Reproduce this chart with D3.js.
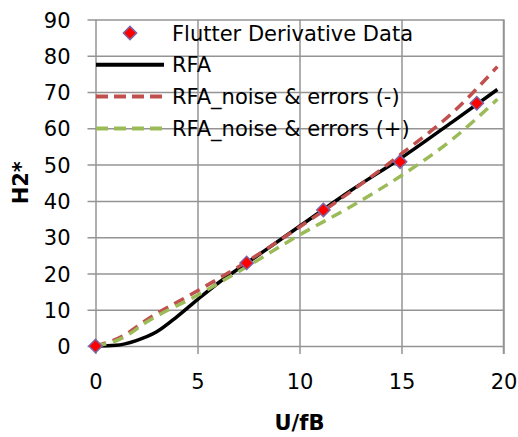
<!DOCTYPE html>
<html>
<head>
<meta charset="utf-8">
<script src="https://cdn.jsdelivr.net/npm/d3@7"></script>
<style>
  html, body { margin: 0; padding: 0; background: #fff; overflow: hidden; }
  svg { display: block; }
  svg text { font-family: "DejaVu Sans", sans-serif; fill: #000; }
</style>
</head>
<body>
<svg></svg>
<script>
// Svg element dimensions
const width = 518;
const height = 437;

// Flutter derivative data points
const dataU = [0, 7.41, 11.17, 14.93, 18.69];
const dataH2 = [0, 22.9, 37.5, 50.8, 66.9];

// RFA curve
const rfaU = [0, 1, 2, 3, 4, 5, 6, 7.4, 10, 12.5, 15, 17.5, 19.7];
const rfaH2 = [0, 0.2, 1.5, 3.9, 8.1, 12.8, 17.3, 22.8, 33, 42.8, 51.9, 61.8, 70.7];

// RFA with noise & errors
const curveU = [0, 1.36, 2.5, 5, 7.4, 10, 12.5, 15, 17.5, 19.7];
const minusH2 = [0, 2.8, 7.2, 15.2, 23.2, 32.8, 42.5, 53, 64.3, 77];
const plusH2 = [0, 2.3, 6.6, 14, 21.8, 30.6, 38.4, 47, 57, 68];

const xTicks = [0, 5, 10, 15, 20];
const yTicks = [0, 10, 20, 30, 40, 50, 60, 70, 80, 90];

const seriesNames = ["Flutter Derivative Data", "RFA", "RFA_noise & errors (-)", "RFA_noise & errors (+)"];

const svg = d3.select("svg").attr("width", width).attr("height", height);

const margin = { top: 19.5, right: 14.5, bottom: 91, left: 95.5 };
const innerWidth = width - margin.left - margin.right;
const innerHeight = height - margin.top - margin.bottom;

const xScale = d3.scaleLinear().domain([0, 20]).range([0, innerWidth]);
const yScale = d3.scaleLinear().domain([0, 90]).range([innerHeight, 0]);

const g = svg.append("g").attr("transform", `translate(${margin.left}, ${margin.top})`);

const gridColor = "#949494";
const fontSize = "21px";

// Axes with gridlines (tick lines run through the plot and stick out a bit)
const xAxisG = g.append("g")
  .attr("transform", `translate(0, ${innerHeight})`)
  .call(d3.axisBottom(xScale).tickValues(xTicks).tickSize(-innerHeight).tickPadding(0));
xAxisG.select(".domain").remove();
xAxisG.selectAll(".tick line").attr("y1", 8).attr("y2", -innerHeight)
  .attr("stroke", gridColor).attr("stroke-width", 1.5);
xAxisG.selectAll(".tick text")
  .attr("y", 43).attr("dy", 0)
  .style("font-size", fontSize);

const yAxisG = g.append("g")
  .call(d3.axisLeft(yScale).tickValues(yTicks).tickSize(-innerWidth).tickPadding(0));
yAxisG.select(".domain").remove();
yAxisG.selectAll(".tick line").attr("x1", -8).attr("x2", innerWidth)
  .attr("stroke", gridColor).attr("stroke-width", 1.5);
yAxisG.selectAll(".tick text")
  .attr("x", -25).attr("dy", "0.36em")
  .style("font-size", fontSize);

// Right border
g.append("line")
  .attr("x1", innerWidth).attr("x2", innerWidth)
  .attr("y1", 0).attr("y2", innerHeight + 8)
  .attr("stroke", gridColor).attr("stroke-width", 1.5);

// Lines
const line = d3.line()
  .x((d) => xScale(d[0]))
  .y((d) => yScale(d[1]))
  .curve(d3.curveMonotoneX);

const series = [
  { values: d3.zip(rfaU, rfaH2), color: "#000000", dash: null },
  { values: d3.zip(curveU, minusH2), color: "#C0504D", dash: "11,7" },
  { values: d3.zip(curveU, plusH2), color: "#9BBB59", dash: "11,7" }
];

g.selectAll(".series")
  .data(series)
  .enter()
  .append("path")
  .attr("class", "series")
  .attr("d", (d) => line(d.values))
  .attr("fill", "none")
  .attr("stroke", (d) => d.color)
  .attr("stroke-width", 3.5)
  .attr("stroke-dasharray", (d) => d.dash);

// Diamonds
const diamond = d3.symbol().type(d3.symbolSquare).size(88);

g.selectAll(".pt")
  .data(d3.zip(dataU, dataH2))
  .enter()
  .append("path")
  .attr("class", "pt")
  .attr("d", diamond)
  .attr("transform", (d) => `translate(${xScale(d[0])}, ${yScale(d[1])}) rotate(45)`)
  .attr("fill", "#FF0000")
  .attr("stroke", "#8064A2")
  .attr("stroke-width", 1.5);

// Legend
const legend = svg.append("g").attr("transform", "translate(96, 33)");
const rowGap = 31.8;

legend.append("path")
  .attr("d", diamond)
  .attr("transform", "translate(34, 0) rotate(45)")
  .attr("fill", "#FF0000")
  .attr("stroke", "#8064A2")
  .attr("stroke-width", 1.5);

series.forEach((s, i) => {
  legend.append("line")
    .attr("x1", 0).attr("x2", 68)
    .attr("y1", rowGap * (i + 1)).attr("y2", rowGap * (i + 1))
    .attr("stroke", s.color)
    .attr("stroke-width", 4)
    .attr("stroke-dasharray", s.dash ? "12,6" : null);
});

legend.selectAll("text")
  .data(seriesNames)
  .enter()
  .append("text")
  .attr("x", 76)
  .attr("y", (d, i) => rowGap * i)
  .attr("dy", "0.36em")
  .style("font-size", fontSize)
  .text((d) => d);

// Axis titles
svg.append("text")
  .attr("x", margin.left + innerWidth / 2)
  .attr("y", 430)
  .attr("text-anchor", "middle")
  .style("font-size", fontSize)
  .style("font-weight", "bold")
  .text("U/fB");

svg.append("text")
  .attr("transform", `translate(28, ${margin.top + innerHeight / 2}) rotate(-90)`)
  .attr("text-anchor", "middle")
  .style("font-size", fontSize)
  .style("font-weight", "bold")
  .text("H2*");
</script>
</body>
</html>
